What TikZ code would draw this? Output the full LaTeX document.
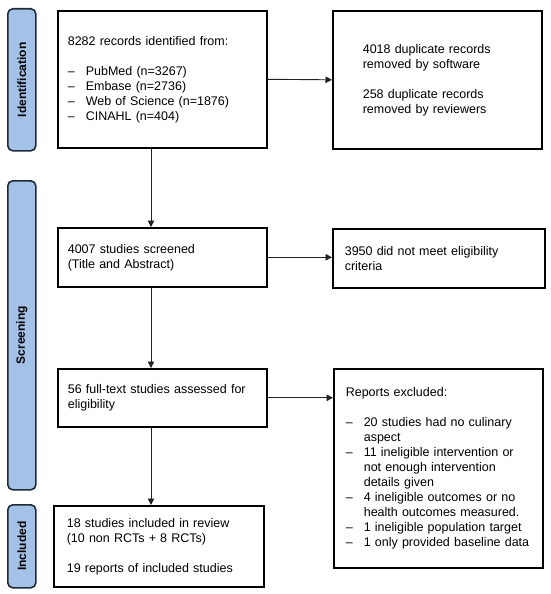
\documentclass[tikz,border=0pt]{standalone}
\usepackage{fontspec}
\setmainfont{Liberation Sans}
\usetikzlibrary{arrows.meta,calc}
\definecolor{lblfill}{HTML}{A4C2E8}
\definecolor{lbldraw}{HTML}{1F2A38}
\definecolor{arrcol}{HTML}{222222}
\newcommand{\pitem}[1]{\makebox[18pt][l]{–}#1}
\newcommand{\pcont}[1]{\hspace*{18pt}#1}
\begin{document}
\begin{tikzpicture}[x=1pt,y=-1pt,
  box/.style={draw=black, line width=1.6pt, align=left, anchor=north west,
    font=\fontsize{12.5}{15}\selectfont, inner ysep=0pt},
  phase/.style={draw=lbldraw, fill=lblfill, line width=1.6pt, rounded corners=5pt,
    anchor=north west, minimum width=28pt, inner sep=0pt},
  phasetxt/.style={rotate=90, font=\bfseries\fontsize{12}{12}\selectfont},
  arr/.style={draw=arrcol, line width=0.9pt, -{Triangle[length=6.5pt,width=6.5pt]}}
]
\useasboundingbox (0,0) rectangle (550,594);

% phase labels
\node[phase, minimum height=142pt] (pid) at (7,8) {};
\node[phasetxt] (tid) at (pid.center) {Identification};
\node[phase, minimum height=309pt] (psc) at (7,180) {};
\node[phasetxt] (tsc) at (psc.center) {Screening};
\node[phase, minimum height=83pt] (pin) at (7,504) {};
\node[phasetxt] (tin) at (pin.center) {Included};

% boxes
\node[box, minimum width=209pt, minimum height=137pt, inner xsep=10pt, text width=189pt] (b1) at (57,10)
 {8282 records identified from:\\[15pt]
  \pitem{PubMed (n=3267)}\\
  \pitem{Embase (n=2736)}\\
  \pitem{Web of Science (n=1876)}\\
  \pitem{CINAHL (n=404)}};

\node[box, minimum width=209pt, minimum height=138pt, inner xsep=30pt, text width=149pt] (b2) at (332,10)
 {4018 duplicate records\\ removed by software\\[15pt]
  258 duplicate records\\ removed by reviewers};

\node[box, minimum width=209pt, minimum height=59pt, inner xsep=10pt, text width=189pt] (b3) at (57,227)
 {4007 studies screened\\ (Title and Abstract)};

\node[box, minimum width=212pt, minimum height=59pt, inner xsep=12pt, text width=188pt] (b4) at (332,228)
 {3950 did not meet eligibility\\ criteria};

\node[box, minimum width=209pt, minimum height=58pt, inner xsep=10pt, text width=189pt] (b5) at (57,368)
 {56 full-text studies assessed for\\ eligibility};

\node[box, minimum width=209pt, minimum height=199pt, inner xsep=12pt, text width=185pt] (b6) at (333,368)
 {Reports excluded:\\[15pt]
  \pitem{20 studies had no culinary}\\
  \pcont{aspect}\\
  \pitem{11 ineligible intervention or}\\
  \pcont{not enough intervention}\\
  \pcont{details given}\\
  \pitem{4 ineligible outcomes or no}\\
  \pcont{health outcomes measured.}\\
  \pitem{1 ineligible population target}\\
  \pitem{1 only provided baseline data}};

\node[box, minimum width=210pt, minimum height=81pt, inner xsep=13pt, text width=184pt] (b7) at (53,505)
 {18 studies included in review\\ (10 non RCTs + 8 RCTs)\\[15pt]
  19 reports of included studies};

% connectors
\coordinate (ax) at (151,0);
\draw[arr] (b1.east) -- (b2.west);
\draw[arr] (b1.south -| ax) -- (b3.north -| ax);
\draw[arr] (b3.east) -- (b4.west |- b3.east);
\draw[arr] (b3.south -| ax) -- (b5.north -| ax);
\draw[arr] (b5.east) -- (b6.west |- b5.east);
\draw[arr] (b5.south -| ax) -- (b7.north -| ax);
\end{tikzpicture}
\end{document}
